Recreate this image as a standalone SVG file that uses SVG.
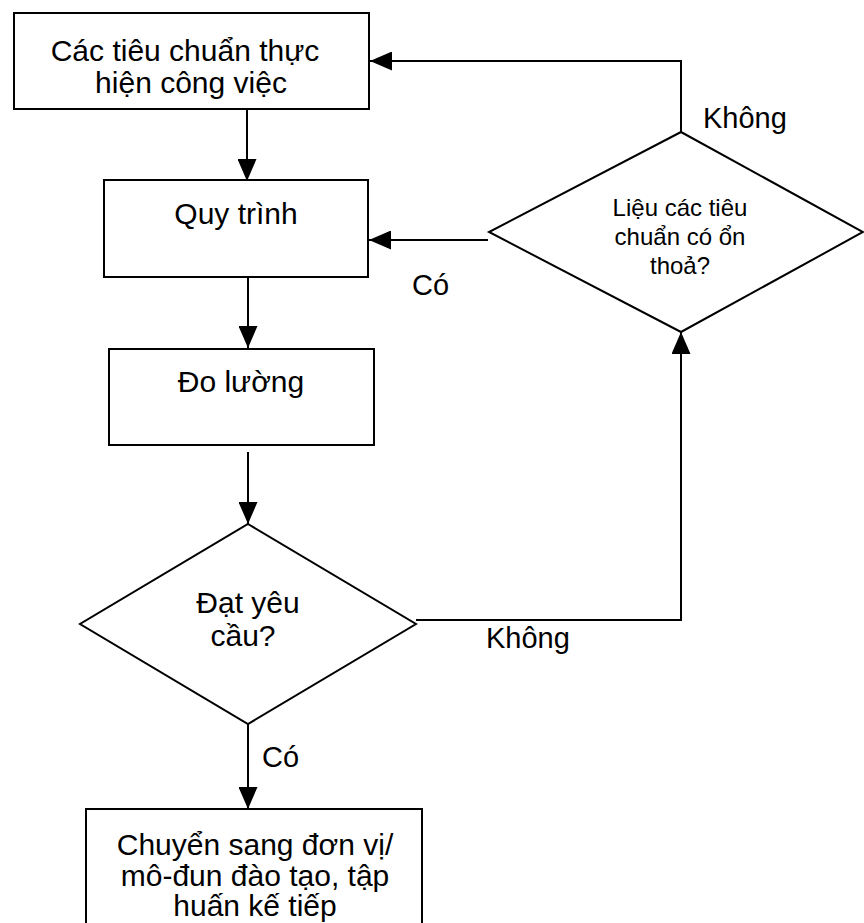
<svg xmlns="http://www.w3.org/2000/svg" width="864" height="923" viewBox="0 0 864 923">
  <style>
    .shape { fill: #ffffff; stroke: #000000; stroke-width: 2; }
    .wire { fill: none; stroke: #000000; stroke-width: 2; }
    .lbl { font-family: "Liberation Sans", Arial, sans-serif; font-size: 30px; fill: #000000; text-anchor: middle; }
    .small { font-size: 24px; }
    .edge { font-family: "Liberation Sans", Arial, sans-serif; font-size: 29px; fill: #000000; }
  </style>
  <defs>
    <marker id="arrow" markerUnits="userSpaceOnUse" markerWidth="22" markerHeight="19" refX="22" refY="9.5" orient="auto">
      <path d="M0,0 L22,9.5 L0,19 z" fill="#000000"/>
    </marker>
  </defs>
  <rect width="864" height="923" fill="#ffffff"/>

  <!-- connectors -->
  <g id="connectors">
    <line class="wire" x1="247" y1="109" x2="247" y2="181" marker-end="url(#arrow)"/>
    <line class="wire" x1="248" y1="277" x2="248" y2="348" marker-end="url(#arrow)"/>
    <line class="wire" x1="248" y1="452" x2="248" y2="524" marker-end="url(#arrow)"/>
    <line class="wire" x1="248" y1="717" x2="248" y2="809" marker-end="url(#arrow)"/>
    <polyline class="wire" points="416,620 681,620 681,332" marker-end="url(#arrow)"/>
    <line class="wire" x1="488" y1="240" x2="369" y2="240" marker-end="url(#arrow)"/>
    <polyline class="wire" points="681,132 681,61 370,61" marker-end="url(#arrow)"/>
    <text class="edge" x="703" y="128">Không</text>
    <text class="edge" x="412" y="295">Có</text>
    <text class="edge" x="486" y="648">Không</text>
    <text class="edge" x="262" y="767">Có</text>
  </g>

  <!-- job performance standards -->
  <g id="standards">
    <rect class="shape" x="14" y="13" width="355" height="96"/>
    <text class="lbl" x="185" y="61">Các tiêu chuẩn thực</text>
    <text class="lbl" x="191" y="93">hiện công việc</text>
  </g>

  <!-- process -->
  <g id="process">
    <rect class="shape" x="104" y="180" width="264" height="97"/>
    <text class="lbl" x="236" y="224">Quy trình</text>
  </g>

  <!-- measurement -->
  <g id="measure">
    <rect class="shape" x="109" y="349" width="265" height="96"/>
    <text class="lbl" x="241" y="392">Đo lường</text>
  </g>

  <!-- requirement check -->
  <g id="check">
    <polygon class="shape" points="248,524 416,624 248,724 80,624"/>
    <text class="lbl" x="248" y="613">Đạt yêu</text>
    <text class="lbl" x="243" y="646">cầu?</text>
  </g>

  <!-- standards review -->
  <g id="review">
    <polygon class="shape" points="681,132 863,232 681,332 489,232"/>
    <text class="lbl small" x="680" y="216">Liệu các tiêu</text>
    <text class="lbl small" x="680" y="245">chuẩn có ổn</text>
    <text class="lbl small" x="680" y="274">thoả?</text>
  </g>

  <!-- next unit -->
  <g id="next">
    <rect class="shape" x="86" y="809" width="336" height="130"/>
    <text class="lbl" x="255" y="855">Chuyển sang đơn vị/</text>
    <text class="lbl" x="255" y="886">mô-đun đào tạo, tập</text>
    <text class="lbl" x="255" y="916">huấn kế tiếp</text>
  </g>
</svg>
